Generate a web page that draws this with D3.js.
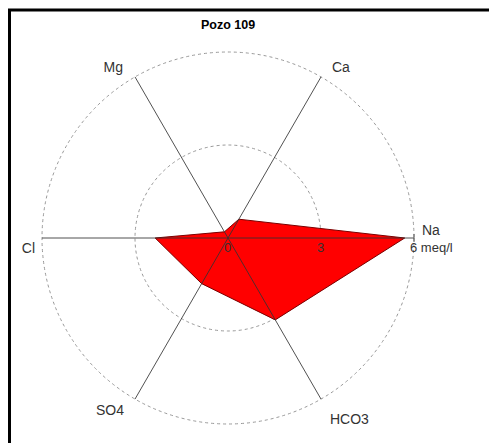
<!DOCTYPE html>
<html>
<head>
<meta charset="utf-8">
<script src="https://cdn.jsdelivr.net/npm/d3@7"></script>
<style>
  body { margin: 0; background: #fff; }
  text { font-family: "Liberation Sans", Arial, sans-serif; }
</style>
</head>
<body>
<div id="chart"></div>
<script>
// data
var title = "Pozo 109";
var ions = ["Na", "Ca", "Mg", "Cl", "SO4", "HCO3"];
var values = [5.7, 0.7, 0.23, 2.35, 1.7, 3.05];
var rings = [3, 6];
var tickValues = [0, 3, 6];
var tickLabels = ["0", "3", "6 meq/l"];

// layout
var width = 489, height = 443,
    cx = 228, cy = 238;

var r = d3.scaleLinear().domain([0, 6]).range([0, 186]);

// angle of each axis, d3 radial convention (0 = up, clockwise)
function ang(name) {
  var i = ions.indexOf(name);
  return Math.PI / 2 - i * Math.PI / 3;
}
function px(name, v) { return r(v) * Math.sin(ang(name)); }
function py(name, v) { return -r(v) * Math.cos(ang(name)); }

var svg = d3.select("#chart").append("svg")
    .attr("width", width)
    .attr("height", height);

// frame (only top and left edges visible)
svg.append("rect")
    .attr("x", 9.5).attr("y", 10)
    .attr("width", 500).attr("height", 460)
    .attr("fill", "none")
    .attr("stroke", "#000")
    .attr("stroke-width", 3);

svg.append("text")
    .attr("x", cx)
    .attr("y", 29)
    .attr("text-anchor", "middle")
    .style("font-size", "12.5px")
    .style("font-weight", "bold")
    .text(title);

var g = svg.append("g")
    .attr("transform", "translate(" + cx + "," + cy + ")");

// rings
g.selectAll(".ring")
    .data(rings)
    .enter().append("circle")
    .attr("class", "ring")
    .attr("r", function(d) { return r(d); })
    .attr("fill", "none")
    .attr("stroke", "#999")
    .attr("stroke-width", 1)
    .attr("stroke-dasharray", "3,3");

// polygon
var radial = d3.lineRadial()
    .angle(function(d, i) { return ang(ions[i]); })
    .radius(function(d) { return r(d); })
    .curve(d3.curveLinearClosed);

g.append("path")
    .attr("d", radial(values))
    .attr("fill", "#ff0000")
    .attr("stroke", "#7a0000")
    .attr("stroke-width", 1);

// axes
g.selectAll(".axis")
    .data(ions)
    .enter().append("line")
    .attr("class", "axis")
    .attr("x1", 0).attr("y1", 0)
    .attr("x2", function(d) { return px(d, 6); })
    .attr("y2", function(d) { return py(d, 6); })
    .attr("stroke", "#333")
    .attr("stroke-opacity", 0.85)
    .attr("stroke-width", 1);

// small tick at Na end
g.append("line")
    .attr("x1", r(6)).attr("x2", r(6))
    .attr("y1", -4).attr("y2", 4)
    .attr("stroke", "#555");

// axis labels
var labelOffset = {
  Na:   { dx: 8,   dy: -3, anchor: "start" },
  Ca:   { dx: 11,  dy: -5, anchor: "start" },
  Mg:   { dx: -12, dy: -5, anchor: "end" },
  Cl:   { dx: -7,  dy: 15, anchor: "end" },
  SO4:  { dx: -11, dy: 16, anchor: "end" },
  HCO3: { dx: 9,   dy: 25, anchor: "start" }
};

g.selectAll(".label")
    .data(ions)
    .enter().append("text")
    .attr("class", "label")
    .attr("x", function(d) { return px(d, 6) + labelOffset[d].dx; })
    .attr("y", function(d) { return py(d, 6) + labelOffset[d].dy; })
    .attr("text-anchor", function(d) { return labelOffset[d].anchor; })
    .style("font-size", "14px")
    .style("fill", "#333")
    .text(function(d) { return d; });

// scale labels along Na axis
g.selectAll(".tick")
    .data(tickValues)
    .enter().append("text")
    .attr("class", "tick")
    .attr("x", function(d) { return r(d) - 4; })
    .attr("y", 14)
    .style("font-size", "13px")
    .style("fill", "#333")
    .text(function(d, i) { return tickLabels[i]; });
</script>
</body>
</html>
